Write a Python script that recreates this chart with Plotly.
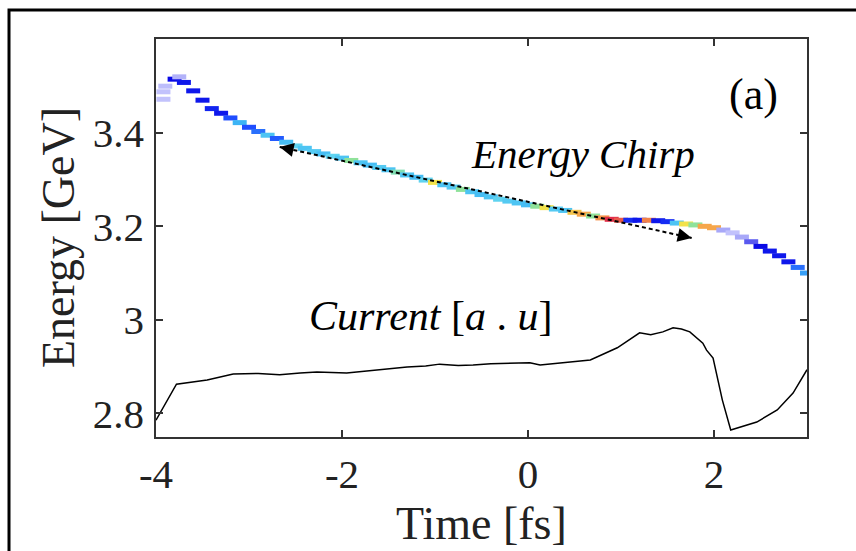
import plotly.graph_objects as go

# Beam longitudinal phase space: energy centroid per time slice and slice density
chirp_t = [-3.92, -3.92, -3.9, -3.8, -3.75, -3.7, -3.6, -3.5, -3.4, -3.3, -3.2, -3.1, -3.0,
           -2.9, -2.8, -2.7, -2.6, -2.5, -2.4, -2.3, -2.2, -2.1, -2.0, -1.9, -1.8,
           -1.7, -1.6, -1.5, -1.4, -1.3, -1.2, -1.1, -1.0, -0.9, -0.8, -0.7, -0.6,
           -0.5, -0.4, -0.3, -0.2, -0.1, 0.0, 0.1, 0.2, 0.3, 0.4, 0.5, 0.6, 0.7,
           0.8, 0.9, 1.0, 1.1, 1.2, 1.3, 1.4, 1.5, 1.6, 1.7, 1.8, 1.9, 2.0, 2.1,
           2.2, 2.3, 2.4, 2.5, 2.6, 2.7, 2.8, 2.9, 3.0]
chirp_E = [3.472, 3.488, 3.500, 3.515, 3.520, 3.508, 3.490, 3.470, 3.452, 3.442, 3.432, 3.422, 3.412,
           3.403, 3.395, 3.388, 3.380, 3.372, 3.367, 3.360, 3.355, 3.350, 3.346, 3.341, 3.336,
           3.331, 3.326, 3.321, 3.316, 3.310, 3.305, 3.299, 3.294, 3.289, 3.284, 3.279, 3.274,
           3.268, 3.263, 3.258, 3.254, 3.250, 3.246, 3.243, 3.240, 3.237, 3.234, 3.230, 3.226, 3.222,
           3.218, 3.215, 3.213, 3.213, 3.213, 3.213, 3.212, 3.210, 3.207, 3.205, 3.203, 3.200, 3.197, 3.192,
           3.186, 3.177, 3.167, 3.157, 3.147, 3.137, 3.124, 3.112, 3.100]
chirp_density = [0.05, 0.05, 0.06, 0.20, 0.08, 0.22, 0.22, 0.22, 0.24, 0.22, 0.30, 0.45, 0.30,
                 0.35, 0.50, 0.32, 0.48, 0.55, 0.50, 0.52, 0.48, 0.55, 0.50, 0.62, 0.50,
                 0.48, 0.52, 0.50, 0.60, 0.50, 0.48, 0.55, 0.75, 0.50, 0.52, 0.62, 0.50,
                 0.48, 0.50, 0.55, 0.52, 0.50, 0.48, 0.62, 0.75, 0.52, 0.50, 0.80, 0.85, 0.62,
                 0.88, 1.00, 0.95, 0.25, 0.22, 0.90, 0.22, 0.25, 0.50, 0.75, 0.62, 0.85, 0.85, 0.10,
                 0.05, 0.10, 0.15, 0.20, 0.22, 0.22, 0.22, 0.35, 0.42]

# Bunch current profile (arbitrary units, drawn on the energy axis)
current_t = [-4.0, -3.9, -3.8, -3.78, -3.45, -3.17, -2.9, -2.67, -2.45, -2.27, -1.95, -1.75, -1.59,
             -1.45, -1.3, -1.1, -0.95, -0.75, -0.59, -0.4, -0.23, 0.02, 0.13, 0.4, 0.67, 0.96,
             1.2, 1.32, 1.45, 1.56, 1.65, 1.74, 1.88, 1.92, 1.99, 2.09, 2.18, 2.46, 2.68, 2.85, 3.0]
current_E = [2.785, 2.820, 2.852, 2.862, 2.871, 2.884, 2.885, 2.882, 2.886, 2.888, 2.886, 2.890, 2.893,
             2.896, 2.899, 2.901, 2.905, 2.902, 2.903, 2.906, 2.907, 2.908, 2.903, 2.909, 2.914, 2.940,
             2.972, 2.968, 2.974, 2.983, 2.980, 2.974, 2.950, 2.935, 2.918, 2.828, 2.764, 2.781, 2.807, 2.843, 2.893]

# Linear chirp guide (double-headed dashed arrow)
arrow_t = [-2.67, 1.76]
arrow_E = [3.370, 3.175]

x_ticks = [-4, -2, 0, 2]
y_ticks = [2.8, 3.0, 3.2, 3.4]
y_tick_text = ["2.8", "3", "3.2", "3.4"]

serif = "Liberation Serif, Times New Roman, serif"

jet_fade = [
    [0.00, "#dcdcff"], [0.10, "#a8a8f8"], [0.20, "#0a0ae6"], [0.30, "#1f4dff"],
    [0.45, "#3cb4f5"], [0.55, "#5fd3f0"], [0.62, "#8fe29a"], [0.75, "#f2e24a"],
    [0.87, "#f79a4a"], [1.00, "#e0304a"],
]

fig = go.Figure()

# phase-space slices drawn as short horizontal bars
fig.add_trace(go.Scatter(
    x=chirp_t, y=chirp_E, mode="markers",
    marker=dict(symbol="line-ew", size=10, color=chirp_density, colorscale=jet_fade,
                cmin=0, cmax=1,
                line=dict(width=5, color=chirp_density, colorscale=jet_fade, cmin=0, cmax=1)),
    hoverinfo="skip", showlegend=False,
))

fig.add_trace(go.Scatter(
    x=arrow_t, y=arrow_E, mode="lines",
    line=dict(color="black", width=2, dash="4px,3px"),
    hoverinfo="skip", showlegend=False,
))

fig.add_trace(go.Scatter(
    x=current_t, y=current_E, mode="lines",
    line=dict(color="black", width=1.5),
    hoverinfo="skip", showlegend=False,
))

annotations = []
# arrowheads at both ends of the guide
for i, j in [(0, 1), (1, 0)]:
    fx = arrow_t[i] + 0.12 * (arrow_t[j] - arrow_t[i]) / abs(arrow_t[j] - arrow_t[i])
    fy = arrow_E[i] + (fx - arrow_t[i]) * (arrow_E[j] - arrow_E[i]) / (arrow_t[j] - arrow_t[i])
    annotations.append(dict(
        x=arrow_t[i], y=arrow_E[i], ax=fx, ay=fy, xref="x", yref="y", axref="x", ayref="y",
        text="", showarrow=True, arrowhead=2, arrowsize=1.4, arrowwidth=2, arrowcolor="black",
    ))

annotations += [
    dict(x=2.43, y=3.482, xref="x", yref="y", text="(a)", showarrow=False,
         font=dict(family=serif, size=44, color="black")),
    dict(x=0.59, y=3.355, xref="x", yref="y", text="<i>Energy Chirp</i>", showarrow=False,
         font=dict(family=serif, size=41, color="black")),
    dict(x=-1.05, y=3.008, xref="x", yref="y",
         text="<i>Current</i> [<i>a</i> . <i>u</i>]", showarrow=False,
         font=dict(family=serif, size=42, color="black")),
    dict(x=-0.1505, y=0.5, xref="paper", yref="paper", xanchor="center", yanchor="middle",
         text="Energy [GeV]", textangle=-90,
         showarrow=False, font=dict(family=serif, size=46, color="#222")),
    dict(x=0.5, y=-0.217, xref="paper", yref="paper", xanchor="center", yanchor="middle",
         text="Time [fs]", showarrow=False, font=dict(family=serif, size=46, color="#222")),
]

fig.update_layout(
    width=856, height=551,
    margin=dict(l=156, r=49, t=39, b=114),
    paper_bgcolor="white", plot_bgcolor="white",
    annotations=annotations,
    shapes=[dict(type="rect", xref="paper", yref="paper", x0=-0.2258, x1=1.12, y0=-0.35, y1=1.0729,
                 line=dict(color="black", width=3), fillcolor="rgba(0,0,0,0)", layer="below")],
)

axis_common = dict(
    showgrid=False, zeroline=False, showline=True, linecolor="#333", linewidth=1.5,
    mirror="ticks", ticks="inside", ticklen=7, tickwidth=1.5, tickcolor="#333",
    tickfont=dict(family=serif, size=41, color="#222"),
)

fig.update_xaxes(range=[-4, 3], tickvals=x_ticks, ticktext=[str(v) for v in x_ticks],
                 ticklabelstandoff=0, **axis_common)
fig.update_yaxes(range=[2.749, 3.601], tickvals=y_ticks, ticktext=y_tick_text,
                 ticklabelstandoff=2, **axis_common)

fig.write_html("out.html")
